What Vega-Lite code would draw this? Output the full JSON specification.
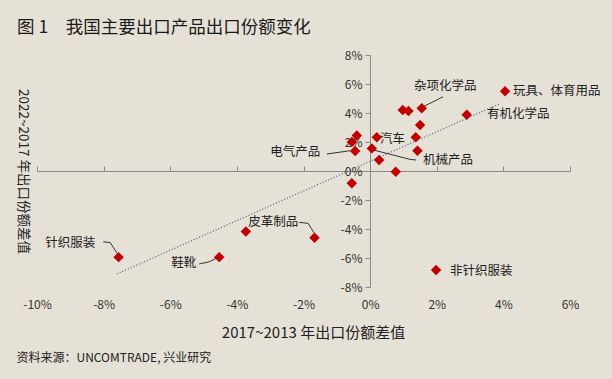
{
  "$schema": "https://vega.github.io/schema/vega-lite/v6.json",
  "width": 533,
  "height": 232,
  "autosize": {"type": "none"},
  "padding": {"left": 37, "top": 55, "right": 42, "bottom": 92},
  "background": "#E6E1D7",
  "config": {
    "view": {"stroke": null},
    "font": "Noto Sans CJK SC",
    "axis": {"labelFont": "Noto Sans CJK SC", "titleFont": "Noto Sans CJK SC", "labelColor": "#333333", "titleColor": "#222222", "labelFontSize": 12, "titleFontWeight": "normal", "grid": false, "labelFlush": false}
  },
  "title": {
    "text": "图\u00a01\u2003我国主要出口产品出口份额变化",
    "anchor": "start",
    "frame": "group",
    "dx": -20,
    "offset": 13,
    "fontSize": 17.5,
    "fontWeight": "normal",
    "color": "#1a1a1a",
    "font": "Noto Sans CJK SC"
  },
  "datasets": {
    "points": [
      {"name": "玩具、体育用品", "x": 4.05, "y": 5.5},
      {"name": "有机化学品", "x": 2.9, "y": 3.88},
      {"name": "杂项化学品", "x": 1.55, "y": 4.32},
      {"name": "", "x": 0.98, "y": 4.2},
      {"name": "", "x": 1.15, "y": 4.14},
      {"name": "", "x": 1.5, "y": 3.17},
      {"name": "", "x": -0.4, "y": 2.45},
      {"name": "", "x": -0.55, "y": 2.0},
      {"name": "汽车", "x": 0.2, "y": 2.32},
      {"name": "", "x": 1.37, "y": 2.32},
      {"name": "电气产品", "x": -0.45, "y": 1.38},
      {"name": "机械产品", "x": 0.05, "y": 1.56},
      {"name": "", "x": 1.42, "y": 1.4},
      {"name": "", "x": 0.27, "y": 0.76},
      {"name": "", "x": 0.77, "y": -0.05},
      {"name": "", "x": -0.55, "y": -0.85},
      {"name": "针织服装", "x": -7.55, "y": -5.94},
      {"name": "鞋靴", "x": -4.53, "y": -5.94},
      {"name": "", "x": -3.73, "y": -4.18},
      {"name": "皮革制品", "x": -1.67, "y": -4.61},
      {"name": "非针织服装", "x": 1.98, "y": -6.83}
    ],
    "labels": [
      {"label": "杂项化学品", "lx": 1.32, "ly": 5.86},
      {"label": "玩具、体育用品", "lx": 4.29, "ly": 5.52},
      {"label": "有机化学品", "lx": 3.51, "ly": 3.93},
      {"label": "汽车", "lx": 0.3, "ly": 2.21},
      {"label": "电气产品", "lx": -3.0, "ly": 1.31},
      {"label": "机械产品", "lx": 1.59, "ly": 0.76},
      {"label": "皮革制品", "lx": -3.66, "ly": -3.52},
      {"label": "针织服装", "lx": -9.75, "ly": -4.97},
      {"label": "鞋靴", "lx": -5.97, "ly": -6.34},
      {"label": "非针织服装", "lx": 2.4, "ly": -6.9}
    ],
    "leaders": [
      {"label": "杂项化学品", "seq": 1, "x": 1.59, "y": 4.43},
      {"label": "杂项化学品", "seq": 2, "x": 2.19, "y": 5.12},
      {"label": "电气产品", "seq": 1, "x": -1.3, "y": 1.17},
      {"label": "电气产品", "seq": 2, "x": -0.6, "y": 1.4},
      {"label": "机械产品", "seq": 1, "x": 0.1, "y": 1.45},
      {"label": "机械产品", "seq": 2, "x": 1.2, "y": 0.8},
      {"label": "机械产品", "seq": 3, "x": 1.38, "y": 0.76},
      {"label": "皮革制品", "seq": 1, "x": -2.13, "y": -3.54},
      {"label": "皮革制品", "seq": 2, "x": -1.86, "y": -3.61},
      {"label": "皮革制品", "seq": 3, "x": -1.68, "y": -4.28},
      {"label": "针织服装", "seq": 1, "x": -8.01, "y": -4.88},
      {"label": "针织服装", "seq": 2, "x": -7.8, "y": -4.94},
      {"label": "针织服装", "seq": 3, "x": -7.6, "y": -5.66},
      {"label": "鞋靴", "seq": 1, "x": -5.13, "y": -6.41},
      {"label": "鞋靴", "seq": 2, "x": -4.83, "y": -6.26},
      {"label": "鞋靴", "seq": 3, "x": -4.6, "y": -6.0}
    ],
    "trend": [
      {"x": -7.6, "y": -7.1},
      {"x": 3.9, "y": 4.65}
    ]
  },
  "resolve": {"axis": {"x": "independent", "y": "independent"}},
  "layer": [
    {
      "data": {"name": "trend"},
      "mark": {"type": "line", "color": "#3E5F86", "strokeWidth": 1.2, "strokeDash": [1, 2]},
      "encoding": {
        "x": {"field": "x", "type": "quantitative", "scale": {"domain": [-10, 6], "nice": false, "zero": false},
          "axis": {"values": [-10, -8, -6, -4, -2, 0, 2, 4, 6], "labelExpr": "datum.value + '%'", "domain": false, "ticks": false, "labelPadding": 12,
            "title": "2017~2013 年出口份额差值", "titleFontSize": 15, "titleX": 276, "titleY": 45, "titleAlign": "center", "titleBaseline": "middle"}},
        "y": {"field": "y", "type": "quantitative", "scale": {"domain": [-8, 8], "nice": false, "zero": false},
          "axis": {"values": [-8, -6, -4, -2, 0, 2, 4, 6, 8], "labelExpr": "datum.value + '%'", "offset": -333, "tickSize": 5, "labelPadding": 3,
            "domainColor": "#8a8a8a", "tickColor": "#8a8a8a",
            "title": "2022~2017 年出口份额差值", "titleFontSize": 13.5, "titleAngle": 90, "titleX": -348, "titleY": 116, "titleAlign": "center", "titleBaseline": "middle"}}
      }
    },
    {
      "data": {"name": "leaders"},
      "mark": {"type": "line", "color": "#333333", "strokeWidth": 1},
      "encoding": {
        "x": {"field": "x", "type": "quantitative", "axis": null},
        "y": {"field": "y", "type": "quantitative", "axis": null},
        "detail": {"field": "label"},
        "order": {"field": "seq"}
      }
    },
    {
      "data": {"name": "points"},
      "mark": {"type": "point", "shape": "diamond", "filled": true, "color": "#C00000", "opacity": 1, "size": 110},
      "encoding": {
        "x": {"field": "x", "type": "quantitative",
          "axis": {"values": [-10, -8, -6, -4, -2, 0, 2, 4, 6], "offset": -116, "labels": false, "tickSize": 5,
            "domainColor": "#8a8a8a", "tickColor": "#8a8a8a",
            "title": "资料来源：UNCOMTRADE, 兴业研究", "titleFontSize": 12, "titleX": -21, "titleY": 186, "titleAlign": "left", "titleBaseline": "middle"}},
        "y": {"field": "y", "type": "quantitative", "axis": null}
      }
    },
    {
      "data": {"name": "labels"},
      "mark": {"type": "text", "align": "left", "baseline": "middle", "fontSize": 12.5, "color": "#222222", "font": "Noto Sans CJK SC"},
      "encoding": {
        "x": {"field": "lx", "type": "quantitative", "axis": null},
        "y": {"field": "ly", "type": "quantitative", "axis": null},
        "text": {"field": "label"}
      }
    }
  ]
}
